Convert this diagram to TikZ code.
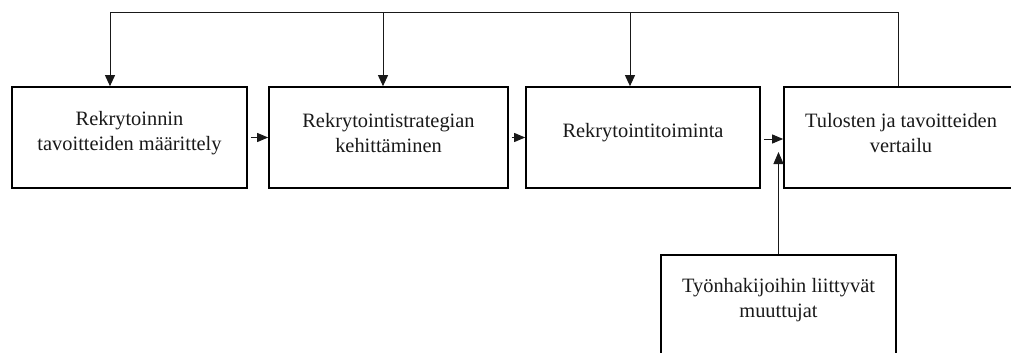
\documentclass[tikz,border=0pt]{standalone}
\usepackage{fontspec}
\setmainfont{Liberation Serif}
\newfontfamily\tnrfont{Liberation Serif}
\usetikzlibrary{arrows.meta}
\begin{document}
\begin{tikzpicture}[x=1pt,y=-1pt,
  boxnode/.style={draw=black,line width=1.7pt,rectangle,inner sep=0pt,minimum height=101pt},
  txt/.style={align=center,inner sep=0pt,font=\tnrfont\fontsize{20.4}{24.5}\selectfont,text=black!90},
  conn/.style={line width=1pt,draw=black!90},
  arr/.style={conn,-{Triangle[length=11pt,width=10pt]}},
  arrs/.style={conn,-{Triangle[length=11pt,width=9pt]}}]
\useasboundingbox (0,0) rectangle (1011,353);
\clip (0,0) rectangle (1011,353);
\fill[white] (0,0) rectangle (1011,353);
% boxes
\node[boxnode,minimum width=235pt] (b1) at (129.5,137.5) {};
\node[boxnode,minimum width=239pt] (b2) at (388.5,137.5) {};
\node[boxnode,minimum width=234pt] (b3) at (643,137.5) {};
\node[boxnode,minimum width=234pt] (b4) at (901,137.5) {};
\node[boxnode,minimum width=235pt] (b5) at (778.5,305.5) {};
% texts
\node[txt] (t1) at (129.5,133) {Rekrytoinnin\\tavoitteiden määrittely};
\node[txt] (t2) at (388.5,133) {Rekrytointistrategian\\kehittäminen};
\node[txt] (t3) at (643,133) {Rekrytointitoiminta};
\node[txt] (t4) at (901,133) {Tulosten ja tavoitteiden\\vertailu};
\node[txt] (t5) at (778.5,300) {Työnhakijoihin liittyvät\\muuttujat};
% feedback line
\coordinate (c1) at (110,13);
\coordinate (c2) at (383,13);
\coordinate (c3) at (630,13);
\coordinate (c4) at (898,13);
\draw[conn] (b4.north -| c4) -- (c4) -- (c1);
\draw[arr] (c1) -- (c1 |- b1.north);
\draw[arr] (c2) -- (c2 |- b2.north);
\draw[arr] (c3) -- (c3 |- b3.north);
% horizontal flow
\draw[arrs] ([xshift=3pt]b1.east) -- (b2.west);
\draw[arrs] ([xshift=3pt]b2.east) -- (b3.west);
\draw[arrs] ([xshift=3pt,yshift=-1.5pt]b3.east) -- ([yshift=-1.5pt]b4.west);
% upward arrow
\coordinate (up) at (778.5,152);
\draw[conn,-{Triangle[length=12pt,width=10pt]}] (b5.north) -- (up);
\end{tikzpicture}
\end{document}
